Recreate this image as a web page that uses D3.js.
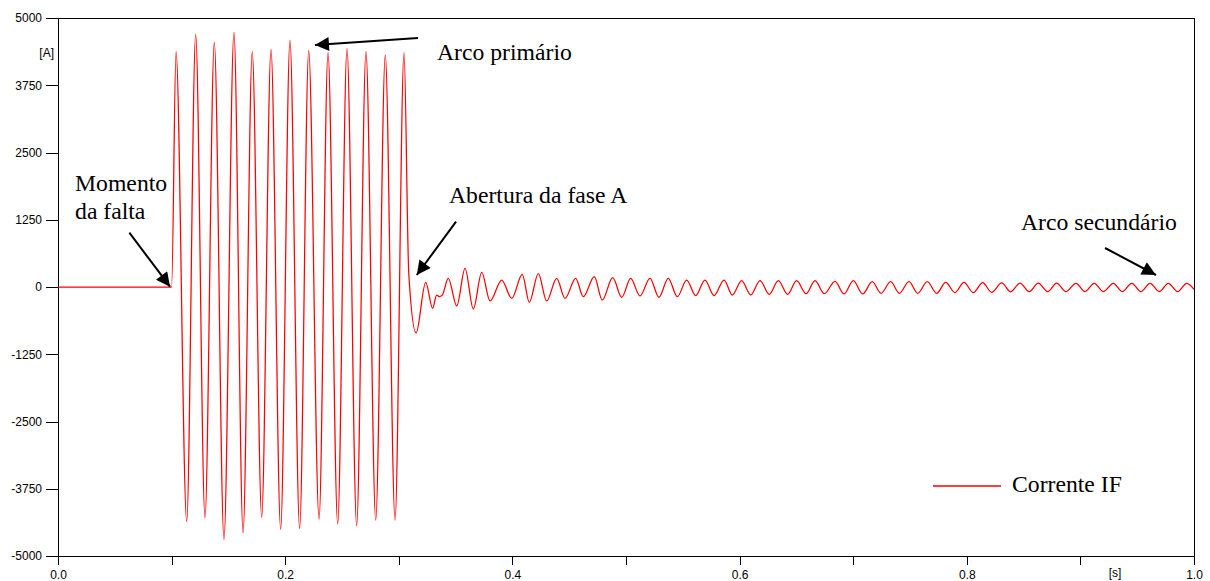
<!DOCTYPE html>
<meta charset="utf-8">
<title>Corrente IF</title>
<style>
body { margin: 0; background: #fff; }
.axis text { font-family: "Liberation Sans", Arial, sans-serif; font-size: 12px; fill: #000; }
.axis path, .axis line { stroke: #000; shape-rendering: crispEdges; }
.note { font-family: "Liberation Serif", "Times New Roman", serif; font-size: 23.7px; fill: #000; }
.trace { fill: none; stroke: #ff0000; stroke-width: 1.25; }
</style>
<body>
<script src="https://d3js.org/d3.v7.min.js"></script>
<script>

// sample times [s] (peaks / troughs)
var times = [
  0, 0.1,
  0.1039, 0.1133, 0.1212, 0.1294, 0.1376, 0.1461, 0.1549, 0.1629, 0.1710, 0.1793,
  0.1875, 0.1960, 0.2042, 0.2127, 0.2207, 0.2298, 0.2377, 0.2462, 0.2544, 0.2629,
  0.2711, 0.2797, 0.2881, 0.2967, 0.3046,
  0.3088, 0.3152, 0.3237, 0.3298, 0.3333, 0.3356, 0.3380, 0.3436, 0.3510, 0.3583,
  0.3656, 0.3730, 0.3803, 0.3906, 0.3994, 0.4087, 0.4149, 0.4228, 0.4302, 0.4390,
  0.4463, 0.4557, 0.4624, 0.4721, 0.4791, 0.4883, 0.4962, 0.5041, 0.5123, 0.5211,
  0.5290, 0.5372, 0.5452, 0.5534, 0.5613, 0.5695, 0.5775, 0.5863, 0.5936, 0.6018,
  0.6098, 0.6180, 0.6261, 0.6341, 0.6423, 0.6502, 0.6585, 0.6664, 0.6746, 0.6840,
  0.6919, 0.7001, 0.7083, 0.7168, 0.7245, 0.7330, 0.7406, 0.7491, 0.7568, 0.7652,
  0.7735, 0.7814, 0.7896, 0.7975, 0.8057, 0.8140, 0.8219, 0.8307, 0.8386, 0.8468,
  0.8550, 0.8629, 0.8712, 0.8791, 0.8873, 0.8961, 0.9040, 0.9122, 0.9202, 0.9290,
  0.9369, 0.9452, 0.9533, 0.9613, 0.9695, 0.9774, 0.9856, 0.9936, 1.0
];

// current [A] at those times
var current = [
  0, 0,
  4374, -4362, 4697, -4288, 4548, -4690, 4734, -4567, 4374, -4281,
  4418, -4504, 4585, -4486, 4393, -4318, 4355, -4405, 4430, -4436,
  4374, -4331, 4312, -4331, 4355,
  236, -855, 87, -396, -150, -178, -160, 161, -353, 347,
  -409, 273, -260, 130, -211, 236, -285, 248, -260, 161,
  -211, 161, -180, 192, -242, 173, -192, 161, -167, 162,
  -192, 162, -180, 130, -161, 130, -161, 130, -149, 117,
  -149, 117, -136, 117, -136, 117, -124, 117, -124, 105,
  -130, 117, -130, 98, -118, 98, -118, 98, -118, 98,
  -118, 86, -105, 86, -105, 80, -99, 75, -90, 72,
  -88, 70, -87, 70, -87, 69, -87, 69, -87, 69,
  -87, 69, -87, 69, -87, 69, -87, 69, -43
];

var yTicks = [-5000, -3750, -2500, -1250, 0, 1250, 2500, 3750, 5000];
var xTicks = [0, 0.1, 0.2, 0.3, 0.4, 0.5, 0.6, 0.7, 0.8, 0.9, 1.0];
var xLabels = [0, 0.2, 0.4, 0.6, 0.8, 1.0];

// annotations in data units: [t, A]
var notes = [
  { lines: ["Momento", "da falta"], at: [0.0150, 1790], from: [0.0628, 1009], to: [0.0986, 6] },
  { lines: ["Abertura da fase A"], at: [0.3442, 1565], from: [0.3504, 1214], to: [0.3158, 223] },
  { lines: ["Arco primário"], at: [0.3336, 4220], from: [0.3169, 4628], to: [0.2262, 4498] },
  { lines: ["Arco secundário"], at: [0.8477, 1060], from: [0.9217, 725], to: [0.9665, 223] }
];

var W = 1210, H = 581;
var margin = {top: 18, right: 16, bottom: 25, left: 58};

var svg = d3.select("body").append("svg")
    .attr("width", W)
    .attr("height", H);

var x = d3.scaleLinear().domain([0, 1]).range([margin.left, W - margin.right]);
var y = d3.scaleLinear().domain([-5000, 5000]).range([H - margin.bottom, margin.top]);

// frame (top + right)
svg.append("path")
    .attr("d", "M" + x(0) + "," + y(5000) + "H" + x(1) + "V" + y(-5000))
    .attr("fill", "none")
    .attr("stroke", "#000")
    .attr("shape-rendering", "crispEdges");

var gx = svg.append("g")
    .attr("class", "axis")
    .attr("transform", "translate(0," + y(-5000) + ")")
    .call(d3.axisBottom(x).tickValues(xTicks).tickSize(9).tickSizeOuter(0)
      .tickFormat(function(d) {
        return xLabels.some(function(v) { return Math.abs(v - d) < 1e-9; }) ? d.toFixed(1) : "";
      }));
gx.selectAll("text").attr("dy", "0.95em");

svg.append("g")
    .attr("class", "axis")
    .attr("transform", "translate(" + x(0) + ",0)")
    .call(d3.axisLeft(y).tickValues(yTicks).tickSize(12).tickSizeOuter(0)
      .tickFormat(function(d) { return String(d); }))   // plain hyphen, not U+2212
    .selectAll("text").attr("x", -16);

svg.append("text")
    .attr("x", 54).attr("y", 57)
    .attr("text-anchor", "end")
    .style("font-family", "Liberation Sans, Arial, sans-serif").style("font-size", "12px")
    .text("[A]");

svg.append("text")
    .attr("x", 1115).attr("y", 577)
    .attr("text-anchor", "middle")
    .style("font-family", "Liberation Sans, Arial, sans-serif").style("font-size", "12px")
    .text("[s]");

// trace
var data = times.map(function(t, i) { return [t, current[i]]; });
var line = d3.line()
    .x(function(d) { return x(d[0]); })
    .y(function(d) { return y(d[1]); })
    .curve(d3.curveMonotoneX);

svg.append("path")
    .datum(data)
    .attr("class", "trace")
    .attr("d", line);

// arrow heads
svg.append("defs").append("marker")
    .attr("id", "head")
    .attr("viewBox", "0 0 10 10")
    .attr("refX", 10).attr("refY", 5)
    .attr("markerWidth", 16).attr("markerHeight", 14)
    .attr("markerUnits", "userSpaceOnUse")
    .attr("orient", "auto")
  .append("path")
    .attr("d", "M0,0L10,5L0,10Z")
    .attr("fill", "#000");

var note = svg.append("g").selectAll("g")
    .data(notes)
    .enter().append("g");

note.append("line")
    .attr("x1", function(d) { return x(d.from[0]); })
    .attr("y1", function(d) { return y(d.from[1]); })
    .attr("x2", function(d) { return x(d.to[0]); })
    .attr("y2", function(d) { return y(d.to[1]); })
    .attr("stroke", "#000")
    .attr("stroke-width", 2)
    .attr("marker-end", "url(#head)");

note.append("text")
    .attr("class", "note")
    .attr("x", function(d) { return x(d.at[0]); })
    .attr("y", function(d) { return y(d.at[1]); })
    .selectAll("tspan")
    .data(function(d) { return d.lines.map(function(l) { return {l: l, x: x(d.at[0])}; }); })
    .enter().append("tspan")
    .attr("x", function(d) { return d.x; })
    .attr("dy", function(d, i) { return i ? 28 : 0; })
    .text(function(d) { return d.l; });

// legend
var legend = svg.append("g");
legend.append("line")
    .attr("x1", 933).attr("x2", 1001)
    .attr("y1", 486).attr("y2", 486)
    .attr("stroke", "#ff0000").attr("stroke-width", 1.5);
legend.append("text")
    .attr("class", "note")
    .attr("x", 1012).attr("y", 492)
    .text("Corrente IF");

</script>
</body>
